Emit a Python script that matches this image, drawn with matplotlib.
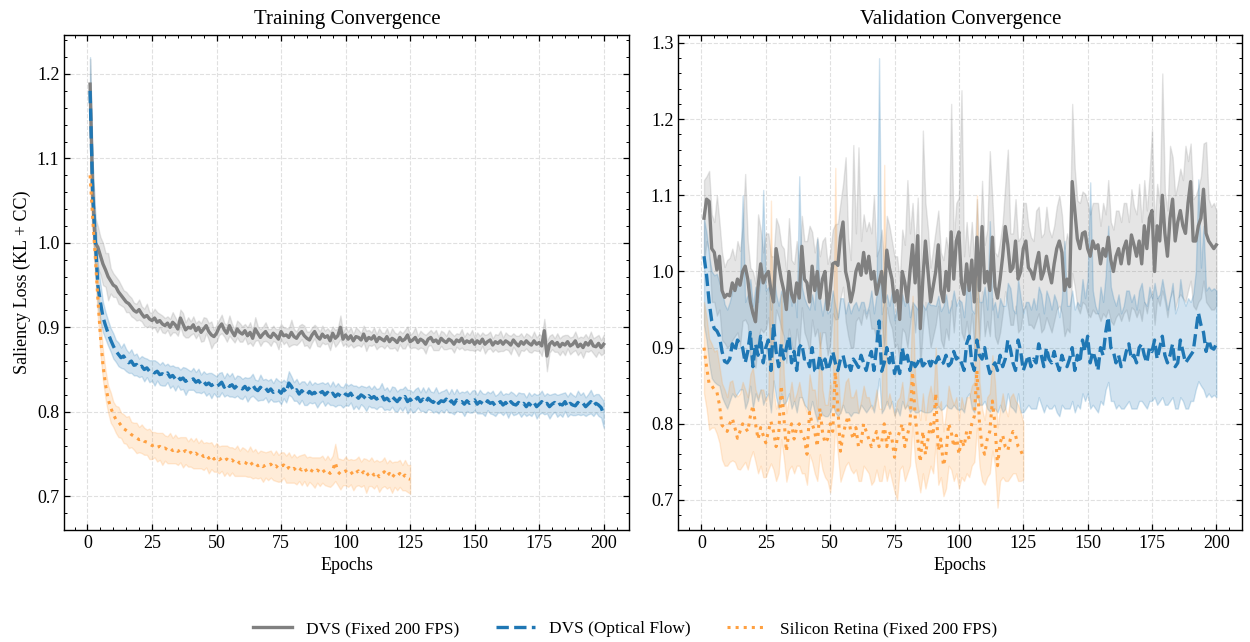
import numpy as np
import matplotlib
matplotlib.use("Agg")
import matplotlib.pyplot as plt
from matplotlib.ticker import MultipleLocator

plt.rcParams['font.family'] = 'serif'
plt.rcParams['font.serif'] = ['Liberation Serif', 'DejaVu Serif']
plt.rcParams['axes.linewidth'] = 1.0

# ---- data (in thousandths) ----
labels = ['DVS (Fixed 200 FPS)', 'DVS (Optical Flow)', 'Silicon Retina (Fixed 200 FPS)']
colors = ['#808080', '#1f77b4', '#ffa040']
styles = ['-', '--', ':']

train_gray = [
    1188, 1060, 1000, 995, 985, 975, 968, 960, 955, 950,
    948, 942, 938, 934, 930, 928, 924, 920, 918, 921,
    916, 912, 914, 910, 908, 911, 906, 908, 904, 902,
    905, 900, 906, 903, 898, 911, 904, 897, 900, 899,
    903, 896, 900, 894, 898, 902, 895, 891, 889, 893,
    900, 904, 897, 893, 902, 895, 890, 898, 894, 892,
    896, 890, 894, 887, 898, 893, 888, 892, 895, 890,
    888, 893, 890, 886, 895, 890, 891, 888, 894, 889,
    887, 892, 895, 890, 887, 885, 891, 895, 889, 886,
    892, 888, 890, 884, 893, 887, 890, 900, 886, 891,
    886, 890, 884, 889, 888, 885, 892, 884, 888, 886,
    890, 883, 888, 886, 884, 889, 883, 887, 885, 882,
    888, 884, 886, 891, 883, 885, 888, 882, 886, 884,
    880, 886, 888, 883, 885, 881, 887, 884, 882, 886,
    884, 880, 885, 883, 887, 881, 884, 882, 885, 880,
    884, 881, 886, 880, 883, 885, 879, 883, 881, 884,
    880, 884, 882, 879, 885, 881, 878, 883, 880, 884,
    881, 879, 884, 880, 882, 878, 896, 866, 880, 883,
    879, 882, 877, 881, 879, 883, 878, 880, 884, 877,
    880, 876, 882, 879, 884, 878, 877, 881, 876, 880]
train_gray_sd = [
    30, 35, 30, 25, 22, 25, 20, 28, 15, 14,
    12, 14, 12, 10, 12, 10, 11, 9, 10, 12,
    9, 10, 14, 8, 9, 11, 12, 8, 10, 9,
    8, 10, 12, 9, 8, 10, 13, 9, 12, 8,
    10, 9, 8, 11, 14, 9, 10, 16, 8, 10,
    9, 11, 8, 10, 12, 9, 8, 10, 11, 9,
    8, 10, 12, 9, 14, 8, 10, 9, 11, 8,
    10, 9, 8, 12, 9, 10, 8, 11, 15, 9,
    8, 10, 9, 12, 8, 10, 9, 8, 11, 9,
    10, 8, 9, 11, 8, 10, 9, 14, 8, 10,
    9, 10, 8, 11, 9, 8, 10, 12, 9, 8,
    10, 9, 11, 8, 9, 10, 8, 12, 9, 10,
    8, 9, 11, 10, 8, 9, 12, 8, 10, 9,
    11, 8, 9, 10, 12, 8, 9, 10, 8, 11,
    9, 10, 8, 9, 11, 8, 10, 9, 12, 8,
    10, 9, 8, 11, 9, 10, 8, 9, 10, 12,
    8, 10, 9, 11, 8, 9, 12, 10, 8, 9,
    10, 9, 11, 8, 10, 12, 14, 18, 10, 9,
    8, 11, 10, 9, 12, 8, 10, 9, 11, 10,
    9, 12, 10, 8, 11, 9, 12, 10, 9, 11]

train_blue = [
    1180, 1060, 1005, 950, 930, 912, 902, 893, 885, 878,
    872, 868, 864, 866, 861, 858, 860, 855, 856, 852,
    854, 850, 852, 848, 849, 846, 848, 844, 845, 843,
    846, 841, 843, 839, 842, 838, 840, 836, 838, 837,
    839, 835, 837, 833, 836, 832, 834, 831, 833, 830,
    832, 835, 829, 833, 830, 832, 828, 831, 829, 827,
    830, 826, 829, 832, 827, 825, 829, 826, 828, 824,
    827, 823, 826, 825, 822, 827, 823, 834, 830, 824,
    826, 821, 825, 822, 820, 824, 821, 823, 819, 822,
    824, 820, 823, 819, 822, 818, 821, 819, 817, 821,
    819, 822, 817, 819, 816, 820, 818, 815, 819, 816,
    818, 815, 817, 820, 814, 816, 813, 818, 815, 812,
    816, 814, 818, 812, 815, 811, 814, 817, 812, 815,
    811, 816, 813, 811, 815, 810, 813, 812, 815, 810,
    813, 809, 814, 811, 812, 809, 813, 810, 812, 814,
    809, 812, 810, 808, 813, 810, 811, 807, 810, 812,
    808, 811, 807, 812, 809, 808, 811, 808, 810, 806,
    810, 807, 811, 806, 809, 812, 808, 810, 806, 809,
    811, 807, 809, 808, 812, 806, 810, 808, 807, 811,
    808, 810, 806, 809, 812, 807, 810, 808, 805, 797]
train_blue_sd = [
    40, 35, 30, 25, 22, 18, 16, 15, 14, 15,
    13, 14, 12, 15, 13, 12, 14, 12, 13, 11,
    12, 14, 11, 13, 12, 15, 11, 12, 14, 12,
    11, 13, 12, 14, 11, 12, 13, 16, 12, 11,
    13, 12, 14, 11, 12, 13, 12, 15, 11, 12,
    14, 12, 11, 13, 12, 14, 11, 12, 13, 12,
    11, 14, 12, 13, 11, 12, 15, 12, 11, 13,
    12, 11, 14, 12, 13, 11, 12, 14, 12, 11,
    13, 12, 11, 14, 12, 13, 11, 12, 14, 12,
    11, 13, 12, 11, 14, 12, 13, 11, 12, 13,
    12, 11, 14, 12, 13, 11, 12, 14, 12, 11,
    13, 12, 11, 14, 12, 13, 11, 12, 14, 12,
    11, 13, 12, 14, 11, 12, 13, 12, 11, 14,
    12, 13, 11, 12, 14, 12, 11, 13, 12, 11,
    14, 12, 13, 11, 12, 14, 12, 11, 13, 12,
    11, 14, 12, 13, 11, 12, 14, 12, 11, 13,
    12, 11, 14, 12, 13, 11, 12, 14, 12, 11,
    13, 12, 11, 14, 12, 13, 11, 12, 14, 12,
    11, 13, 12, 14, 11, 12, 13, 12, 11, 14,
    12, 13, 11, 12, 14, 12, 11, 13, 12, 16]

train_orange = [
    1080, 1030, 985, 935, 890, 855, 832, 815, 805, 797,
    791, 788, 784, 780, 778, 776, 773, 771, 769, 767,
    768, 765, 764, 762, 760, 761, 758, 759, 756, 757,
    755, 757, 754, 756, 753, 755, 752, 754, 750, 752,
    749, 751, 748, 750, 747, 749, 745, 748, 744, 746,
    743, 745, 742, 744, 741, 743, 740, 742, 739, 741,
    740, 738, 741, 737, 739, 736, 738, 735, 737, 736,
    738, 734, 736, 733, 735, 737, 732, 734, 731, 733,
    730, 733, 731, 734, 729, 732, 730, 728, 731, 729,
    732, 728, 730, 727, 731, 740, 729, 726, 728, 730,
    727, 729, 725, 728, 730, 726, 729, 724, 727, 729,
    725, 728, 723, 726, 729, 724, 727, 722, 726, 724,
    727, 722, 725, 721, 720]
train_orange_sd = [
    20, 22, 24, 22, 20, 18, 17, 16, 18, 15,
    16, 18, 15, 17, 16, 19, 15, 16, 18, 15,
    17, 16, 15, 18, 16, 15, 17, 16, 19, 15,
    16, 18, 15, 17, 16, 15, 18, 16, 15, 17,
    16, 18, 15, 17, 16, 15, 18, 16, 15, 17,
    16, 15, 18, 16, 17, 15, 16, 18, 15, 17,
    16, 15, 18, 16, 17, 15, 16, 18, 15, 17,
    16, 15, 18, 16, 17, 15, 16, 18, 15, 17,
    16, 15, 18, 16, 17, 15, 16, 18, 15, 17,
    16, 15, 18, 16, 17, 22, 16, 18, 15, 17,
    16, 15, 18, 16, 17, 15, 16, 20, 15, 17,
    16, 15, 18, 16, 17, 15, 16, 18, 15, 17,
    16, 15, 18, 16, 17]

val_gray = [
    1070, 1095, 1092, 1030, 1025, 1002, 1020, 975, 966, 970,
    968, 985, 975, 990, 982, 1000, 1007, 990, 960, 945,
    934, 980, 1010, 985, 995, 1000, 975, 960, 1030, 1010,
    990, 975, 950, 1000, 970, 960, 985, 965, 1033, 990,
    985, 960, 1007, 975, 1000, 965, 990, 1000, 950, 975,
    1010, 1012, 1008, 1045, 1065, 1000, 985, 960, 975, 1000,
    1010, 995, 1025, 998, 1020, 990, 1000, 970, 985, 1000,
    960, 1028, 1005, 990, 960, 975, 937, 1000, 985, 960,
    1000, 1035, 985, 1047, 925, 990, 1040, 1000, 960, 980,
    1000, 1035, 975, 960, 1000, 975, 1052, 990, 1040, 1052,
    985, 970, 1010, 975, 1015, 960, 1045, 975, 1059, 985,
    1000, 975, 1045, 980, 965, 990, 1020, 1059, 1035, 1000,
    1005, 1040, 990, 1000, 1030, 1040, 1005, 1000, 990, 1010,
    1025, 990, 1000, 1020, 1000, 985, 1010, 1030, 1040, 1025,
    975, 990, 980, 1118, 1080, 1043, 1030, 1050, 1052, 1030,
    1020, 1040, 1030, 1035, 1010, 1030, 1020, 1045, 1015, 1000,
    1020, 1030, 1010, 1030, 1040, 1010, 1048, 1035, 1020, 1040,
    1010, 1060, 1030, 1070, 1080, 1000, 1060, 1040, 1100, 1050,
    1020, 1070, 1095, 1040, 1065, 1080, 1060, 1050, 1090, 1118,
    1040, 1040, 1060, 1070, 1108, 1050, 1040, 1035, 1030, 1035]
val_gray_up = [
    50, 30, 40, 45, 40, 98, 45, 50, 40, 45,
    50, 45, 40, 50, 45, 60, 121, 50, 45, 55,
    50, 95, 45, 40, 55, 50, 45, 60, 40, 50,
    45, 55, 50, 70, 45, 50, 55, 45, 40, 50,
    55, 100, 45, 50, 45, 55, 50, 45, 60, 50,
    45, 50, 55, 45, 50, 150, 60, 55, 191, 50,
    153, 45, 50, 55, 45, 60, 100, 50, 45, 55,
    50, 45, 55, 50, 60, 45, 50, 55, 50, 160,
    50, 55, 45, 50, 60, 195, 50, 55, 45, 50,
    55, 45, 50, 55, 45, 50, 168, 55, 50, 45,
    253, 50, 55, 45, 50, 55, 50, 45, 60, 50,
    55, 183, 50, 45, 55, 50, 45, 55, 125, 50,
    45, 55, 50, 45, 60, 50, 55, 45, 50, 70,
    60, 55, 50, 65, 55, 60, 50, 55, 60, 50,
    55, 60, 50, 102, 55, 50, 60, 55, 50, 60,
    55, 50, 60, 55, 50, 60, 55, 75, 50, 55,
    60, 50, 55, 60, 50, 55, 60, 50, 55, 75,
    55, 60, 50, 55, 106, 60, 55, 50, 160, 55,
    60, 95, 55, 60, 50, 55, 60, 115, 55, 50,
    55, 60, 50, 55, 60, 120, 55, 50, 60, 45]
val_gray_dn = [
    60, 55, 65, 70, 65, 60, 70, 65, 60, 70,
    65, 75, 60, 70, 80, 65, 70, 60, 75, 65,
    60, 70, 85, 65, 70, 60, 75, 65, 80, 70,
    65, 60, 70, 75, 65, 70, 60, 65, 80, 70,
    75, 65, 70, 60, 75, 65, 70, 80, 60, 70,
    65, 75, 70, 80, 85, 65, 70, 60, 75, 65,
    70, 65, 75, 60, 70, 65, 75, 60, 70, 65,
    60, 75, 70, 65, 60, 70, 55, 75, 65, 60,
    70, 80, 65, 85, 50, 65, 80, 70, 60, 65,
    70, 80, 65, 60, 75, 65, 90, 70, 80, 85,
    65, 60, 75, 65, 70, 60, 80, 65, 85, 70,
    65, 60, 80, 65, 60, 70, 75, 85, 80, 70,
    75, 85, 70, 75, 80, 85, 75, 70, 65, 75,
    80, 70, 75, 80, 70, 65, 75, 80, 85, 80,
    60, 65, 60, 120, 100, 90, 85, 90, 95, 85,
    80, 90, 85, 90, 75, 85, 80, 95, 80, 70,
    80, 85, 75, 85, 90, 75, 95, 85, 80, 90,
    75, 100, 85, 105, 110, 70, 95, 85, 125, 90,
    80, 105, 120, 90, 100, 110, 95, 90, 115, 130,
    85, 90, 100, 105, 120, 90, 85, 85, 80, 80]

val_blue = [
    1020, 995, 960, 935, 925, 922, 915, 895, 882, 880,
    885, 905, 895, 910, 905, 900, 880, 895, 920, 875,
    905, 890, 915, 880, 900, 910, 870, 932, 895, 875,
    905, 885, 900, 915, 880, 895, 870, 900, 905, 885,
    886, 875, 900, 870, 868, 890, 872, 885, 870, 880,
    895, 880, 870, 885, 890, 875, 880, 870, 885, 880,
    874, 890, 880, 870, 885, 895, 870, 900, 935, 869,
    880, 900, 880, 895, 866, 880, 866, 900, 880, 890,
    870, 885, 875, 880, 888, 876, 880, 885, 876, 886,
    880, 888, 878, 880, 890, 876, 880, 895, 885, 888,
    880, 870, 905, 915, 880, 870, 910, 890, 885, 900,
    880, 866, 875, 880, 870, 890, 875, 885, 910, 898,
    880, 870, 910, 895, 870, 880, 890, 875, 885, 880,
    905, 890, 875, 900, 885, 880, 895, 880, 870, 890,
    880, 875, 885, 900, 870, 890, 880, 910, 895, 915,
    880, 895, 885, 870, 900, 890, 920, 940, 900, 895,
    880, 890, 875, 880, 895, 905, 885, 890, 880, 900,
    905, 890, 880, 900, 895, 910, 885, 900, 915, 890,
    880, 890, 905, 875, 880, 910, 895, 880, 885, 890,
    895, 920, 946, 930, 920, 895, 910, 900, 898, 905]
val_blue_up = [
    50, 55, 60, 65, 70, 75, 70, 80, 75, 70,
    75, 70, 80, 75, 85, 200, 80, 75, 70, 80,
    75, 70, 80, 227, 75, 70, 80, 70, 75, 80,
    70, 75, 80, 70, 75, 80, 70, 225, 75, 80,
    70, 75, 70, 80, 175, 75, 70, 80, 75, 70,
    80, 75, 70, 80, 75, 70, 80, 75, 70, 80,
    75, 70, 80, 75, 70, 80, 75, 70, 345, 75,
    80, 70, 75, 80, 70, 75, 80, 70, 75, 80,
    70, 75, 80, 70, 75, 80, 70, 75, 80, 70,
    75, 80, 70, 75, 80, 70, 75, 80, 70, 75,
    80, 70, 75, 80, 70, 75, 80, 70, 75, 80,
    70, 200, 75, 80, 70, 75, 80, 70, 75, 80,
    70, 75, 80, 70, 75, 80, 70, 75, 80, 70,
    75, 80, 70, 75, 80, 70, 75, 80, 70, 75,
    160, 80, 70, 75, 80, 70, 75, 80, 70, 75,
    237, 80, 70, 75, 80, 70, 75, 120, 80, 70,
    75, 80, 70, 75, 80, 70, 75, 80, 70, 75,
    80, 70, 75, 80, 70, 75, 80, 70, 75, 80,
    70, 75, 80, 70, 75, 80, 70, 75, 80, 70,
    75, 80, 175, 75, 140, 80, 70, 75, 80, 70]
val_blue_dn = [
    90, 85, 80, 75, 70, 70, 65, 60, 55, 60,
    55, 65, 60, 70, 60, 55, 60, 65, 70, 55,
    65, 60, 70, 55, 65, 70, 55, 75, 60, 55,
    65, 60, 70, 75, 60, 65, 55, 65, 70, 60,
    65, 60, 70, 55, 65, 70, 60, 75, 60, 65,
    70, 65, 60, 70, 65, 60, 65, 60, 70, 65,
    60, 65, 60, 55, 65, 70, 55, 65, 75, 55,
    60, 70, 60, 65, 55, 60, 55, 70, 60, 65,
    55, 65, 60, 65, 70, 60, 65, 70, 60, 65,
    60, 65, 60, 60, 65, 55, 60, 70, 65, 70,
    60, 55, 70, 75, 60, 55, 70, 65, 60, 70,
    60, 50, 55, 60, 55, 65, 60, 65, 70, 75,
    60, 55, 70, 80, 55, 60, 65, 55, 65, 60,
    70, 65, 60, 75, 65, 60, 70, 65, 60, 65,
    60, 55, 65, 70, 55, 65, 60, 70, 65, 75,
    60, 70, 65, 55, 70, 65, 75, 85, 70, 65,
    60, 65, 55, 60, 70, 75, 65, 70, 60, 70,
    75, 65, 60, 70, 65, 75, 60, 70, 80, 65,
    55, 60, 70, 55, 60, 75, 65, 60, 65, 60,
    65, 75, 90, 80, 75, 60, 70, 65, 60, 70]

val_orange = [
    900, 875, 852, 850, 845, 842, 825, 798, 795, 790,
    800, 807, 795, 781, 790, 800, 795, 790, 810, 824,
    800, 780, 795, 785, 775, 790, 803, 790, 770, 785,
    850, 810, 764, 790, 800, 780, 795, 800, 785, 780,
    760, 815, 800, 790, 770, 820, 790, 775, 780, 800,
    790, 868, 820, 764, 785, 800, 810, 790, 780, 795,
    770, 775, 800, 790, 780, 770, 780, 790, 770, 775,
    800, 770, 790, 780, 756, 780, 790, 800, 770, 785,
    800, 868, 810, 780, 750, 790, 760, 780, 800, 785,
    840, 765, 780, 745, 760, 800, 790, 770, 785, 760,
    780, 770, 790, 780, 800, 810, 870, 800, 770, 760,
    780, 790, 830, 800, 745, 775, 785, 770, 765, 780,
    790, 785, 770, 765, 757]
val_orange_up = [
    60, 65, 60, 55, 50, 55, 50, 55, 50, 45,
    55, 50, 45, 55, 50, 55, 50, 45, 55, 50,
    45, 55, 50, 60, 55, 50, 290, 55, 50, 45,
    120, 55, 50, 45, 55, 50, 45, 55, 50, 45,
    55, 50, 45, 55, 50, 100, 55, 50, 45, 55,
    50, 268, 55, 50, 45, 55, 50, 45, 55, 50,
    45, 55, 50, 45, 55, 50, 45, 55, 50, 45,
    340, 55, 50, 45, 55, 50, 45, 55, 50, 45,
    55, 100, 50, 45, 55, 50, 45, 55, 50, 45,
    60, 55, 50, 45, 55, 50, 45, 55, 50, 45,
    55, 50, 45, 55, 50, 45, 230, 55, 50, 45,
    55, 50, 60, 55, 50, 45, 55, 50, 45, 55,
    50, 45, 55, 50, 45]
val_orange_dn = [
    60, 55, 60, 55, 50, 55, 50, 45, 50, 45,
    50, 55, 45, 40, 50, 55, 45, 50, 55, 60,
    50, 45, 50, 55, 45, 50, 55, 50, 45, 50,
    70, 55, 40, 50, 55, 45, 50, 55, 50, 45,
    40, 55, 50, 55, 45, 60, 50, 45, 55, 90,
    50, 70, 60, 40, 50, 55, 60, 50, 45, 55,
    45, 50, 55, 50, 45, 50, 55, 50, 45, 50,
    55, 45, 50, 55, 45, 80, 50, 55, 45, 50,
    55, 70, 60, 50, 40, 55, 45, 50, 55, 50,
    65, 45, 50, 40, 45, 55, 50, 45, 50, 45,
    50, 45, 55, 50, 55, 60, 75, 55, 45, 40,
    50, 55, 65, 55, 55, 50, 55, 45, 40, 50,
    55, 50, 45, 40, 30]


def arr(v):
    return np.array(v) / 1000.0


epochs_long = np.arange(1, len(train_gray) + 1)
epochs_short = np.arange(1, len(train_orange) + 1)

fig = plt.figure(figsize=(12.5, 6.42), dpi=100)
ax1 = fig.add_axes([0.0515, 0.1745, 0.452, 0.771])
ax2 = fig.add_axes([0.5427, 0.1745, 0.4509, 0.771])

train = [(train_gray, train_gray_sd, epochs_long),
         (train_blue, train_blue_sd, epochs_long),
         (train_orange, train_orange_sd, epochs_short)]
val = [(val_gray, val_gray_up, val_gray_dn, epochs_long),
       (val_blue, val_blue_up, val_blue_dn, epochs_long),
       (val_orange, val_orange_up, val_orange_dn, epochs_short)]

lws = [2.4, 2.4, 2.2]
for i, (m, s, x) in enumerate(train):
    m = arr(m)
    s = arr(s)
    ax1.fill_between(x, m - s, m + s, color=colors[i], alpha=0.2, lw=1)
    ax1.plot(x, m, ls=styles[i], color=colors[i], lw=lws[i], label=labels[i])

for i, (m, up, dn, x) in enumerate(val):
    m = arr(m)
    ax2.fill_between(x, m - arr(dn), m + arr(up), color=colors[i], alpha=0.2, lw=1)
    ax2.plot(x, m, ls=styles[i], color=colors[i], lw=lws[i], label=labels[i])

ax1.set_ylim(0.66, 1.2462)
ax2.set_ylim(0.6606, 1.3105)

ax1.set_title('Training Convergence', fontsize=15, pad=8)
ax2.set_title('Validation Convergence', fontsize=15, pad=8)
ax1.set_ylabel('Saliency Loss (KL + CC)', fontsize=13)
for ax in (ax1, ax2):
    ax.set_xlabel('Epochs', fontsize=13)
    ax.xaxis.set_major_locator(MultipleLocator(25))
    ax.xaxis.set_minor_locator(MultipleLocator(5))
    ax.yaxis.set_major_locator(MultipleLocator(0.1))
    ax.yaxis.set_minor_locator(MultipleLocator(0.02))
    ax.tick_params(which='both', direction='in', top=True, right=True, labelsize=13)
    ax.tick_params(which='major', length=4, width=0.9)
    ax.tick_params(which='minor', length=2, width=0.7)
    ax.grid(True, which='major', ls='--', color='0.88', lw=0.8)
    ax.set_axisbelow(True)

handles, labs = ax1.get_legend_handles_labels()
fig.legend(handles, labs, loc='center', bbox_to_anchor=(0.5, 0.02), ncol=3,
           frameon=False, fontsize=12.4, handlelength=2.3, handletextpad=0.8,
           columnspacing=2.1)

fig.savefig('out.png', dpi=100)
